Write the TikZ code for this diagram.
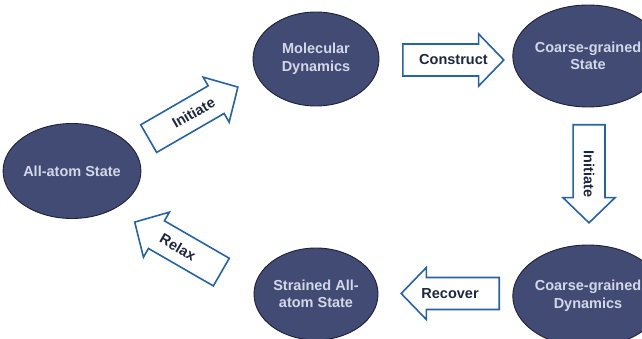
\documentclass[tikz,border=0pt]{standalone}
\usepackage{fontspec}
\setmainfont{Liberation Sans}
\usetikzlibrary{shapes.geometric,shapes.arrows,calc}
\definecolor{statefill}{HTML}{414B73}
\definecolor{stateline}{HTML}{1C2238}
\definecolor{statetext}{HTML}{D3D8E8}
\definecolor{arrowline}{HTML}{2562A8}
\definecolor{arrowtext}{HTML}{1E2740}
\tikzset{
  state/.style={ellipse, draw=stateline, line width=0.9pt, fill=statefill,
    text=statetext, inner sep=0pt, align=center,
    font=\fontsize{14.5}{17.5}\selectfont\bfseries},
  % hollow block arrow; its label is set separately at its middle
  blockarrow/.style={single arrow, draw=arrowline, line width=1.6pt, fill=white,
    minimum width=52pt, single arrow tip angle=92,
    text height=10.5pt, text depth=3pt, inner xsep=0pt, inner ysep=3.75pt,
    anchor=tail},
  arrowlabel/.style={text=arrowtext, inner sep=0pt,
    font=\fontsize{14.5}{17.5}\selectfont\bfseries}
}
\begin{document}
\begin{tikzpicture}[x=1pt,y=-1pt]
  \useasboundingbox (0,0) rectangle (642,339);
  \begin{scope}
    \clip (0,0) rectangle (642,339);
    % states
    \node[state, minimum width=130pt, minimum height=95pt] (allatom) at (72,171) {All-atom State};
    \node[state, minimum width=126pt, minimum height=94pt] (md) at (316,59) {Molecular\\Dynamics};
    \node[state, minimum width=126pt, minimum height=102pt] (cgs) at (588,56) {Coarse-grained\\State};
    \node[state, minimum width=126pt, minimum height=102pt] (cgd) at (588,296) {Coarse-grained\\Dynamics};
    \node[state, minimum width=124pt, minimum height=92pt] (strained) at (316,294) {Strained All-\\atom State};
    % block arrows between the states, placed by their tails
    \node[blockarrow, rotate=30, minimum height=103pt] (init1) at (148,139) {};
    \node[blockarrow, minimum height=101pt] (construct) at (402,60) {};
    \node[blockarrow, rotate=-90, minimum height=98pt] (init2) at (589,124) {};
    \node[blockarrow, shape border rotate=180, minimum height=98pt] (recover) at (500,293.5) {};
    \node[blockarrow, rotate=-30, shape border rotate=180, minimum height=100pt] (relax) at (222,272.5) {};
    % arrow labels
    \node[arrowlabel, rotate=30] (init1-text) at ($(init1.tail)!0.5!(init1.tip)$) {Initiate};
    \node[arrowlabel] (construct-text) at ($(construct.tail)!0.5!(construct.tip)$) {Construct};
    \node[arrowlabel, rotate=-90] (init2-text) at ($(init2.tail)!0.5!(init2.tip)$) {Initiate};
    \node[arrowlabel] (recover-text) at ($(recover.tail)!0.5!(recover.tip)$) {Recover};
    \node[arrowlabel, rotate=-30] (relax-text) at ($(relax.tail)!0.5!(relax.tip)$) {Relax};
  \end{scope}
\end{tikzpicture}
\end{document}
